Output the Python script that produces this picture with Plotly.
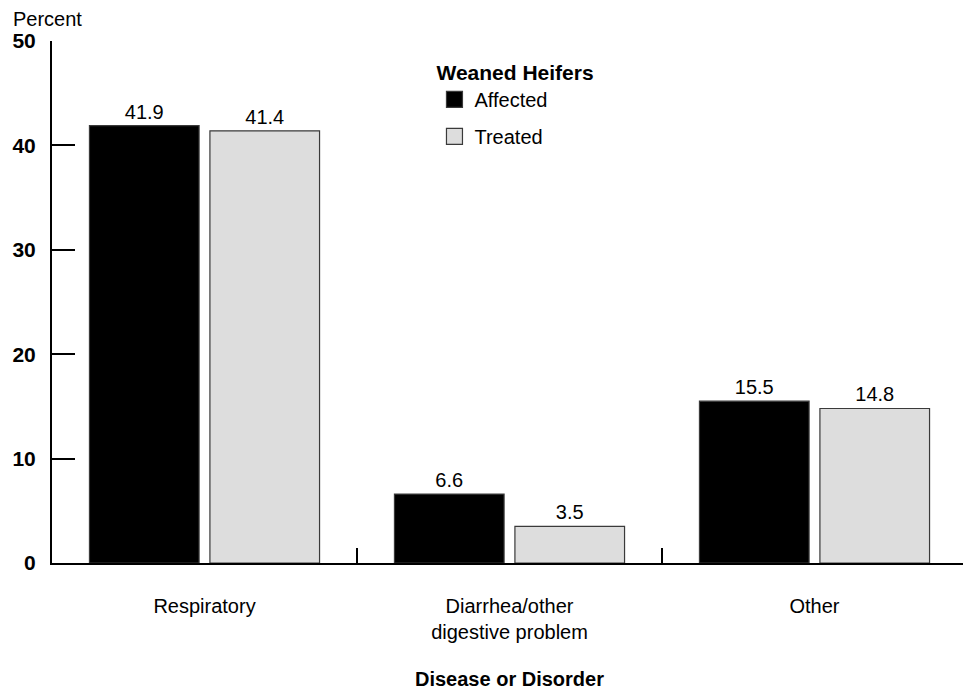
import plotly.graph_objects as go

categories = ["Respiratory", "Diarrhea/other<br>digestive problem", "Other"]
affected = [41.9, 6.6, 15.5]
treated = [41.4, 3.5, 14.8]
series_names = ["Affected", "Treated"]
legend_title = "Weaned Heifers"
y_ticks = [0, 10, 20, 30, 40, 50]

FONT = "Liberation Sans, Arial, sans-serif"
colors = ["#000000", "#dddddd"]
outline = "#3a3a3a"

fig = go.Figure()
for name, vals, col in zip(series_names, [affected, treated], colors):
    fig.add_trace(go.Bar(
        x=categories, y=vals, name=name, showlegend=False,
        marker=dict(color=col, line=dict(color=outline, width=1.2)),
        text=[f"{v:.1f}" for v in vals], textposition="outside",
        textfont=dict(family=FONT, size=20, color="#000000"),
        cliponaxis=False,
    ))
# legend entries with larger square swatches
for name, col in zip(series_names, colors):
    fig.add_trace(go.Scatter(
        x=[None], y=[None], mode="markers", name=name, legendgroup=name,
        marker=dict(symbol="square", size=20, color=col,
                    line=dict(color=outline, width=1.2)),
    ))

# the page body adds an 8px offset, so the figure is sized to fit inside the window
fig.update_layout(
    width=963, height=682,
    margin=dict(l=44, r=4, t=33, b=127),
    paper_bgcolor="white", plot_bgcolor="white",
    barmode="group", bargap=0.21, bargroupgap=0.09,
    font=dict(family=FONT, size=20, color="#000000"),
    showlegend=True,
    legend=dict(
        x=0.418, y=0.978, xanchor="left", yanchor="top",
        title=dict(text="<b>" + legend_title + "</b>", font=dict(family=FONT, size=21)),
        font=dict(family=FONT, size=20), bgcolor="rgba(0,0,0,0)",
        traceorder="grouped", tracegroupgap=8, itemsizing="trace",
    ),
    xaxis=dict(
        showline=True, linecolor="#000000", linewidth=2,
        ticks="inside", ticklen=15, tickwidth=2, tickcolor="#000000",
        tickson="boundaries", showgrid=False, zeroline=False,
        tickfont=dict(family=FONT, size=20), ticklabelstandoff=24,
        title=dict(text="<b>Disease or Disorder</b>", font=dict(family=FONT, size=20), standoff=30),
        range=[-0.5, 2.5], fixedrange=True, automargin=False,
    ),
    yaxis=dict(
        range=[0, 50], tickvals=y_ticks, ticktext=[f"<b>{t}</b>" for t in y_ticks],
        showline=True, linecolor="#000000", linewidth=2,
        ticks="inside", ticklen=23, tickwidth=2, tickcolor="#000000",
        showgrid=False, zeroline=False,
        tickfont=dict(family=FONT, size=21), ticklabelstandoff=10,
        fixedrange=True, automargin=False,
    ),
    annotations=[dict(
        text="Percent", xref="paper", yref="paper", x=-0.045, y=1.0,
        xanchor="left", yanchor="bottom", yshift=9, showarrow=False,
        font=dict(family=FONT, size=20, color="#000000"),
    )],
)

fig.write_html("out.html")
